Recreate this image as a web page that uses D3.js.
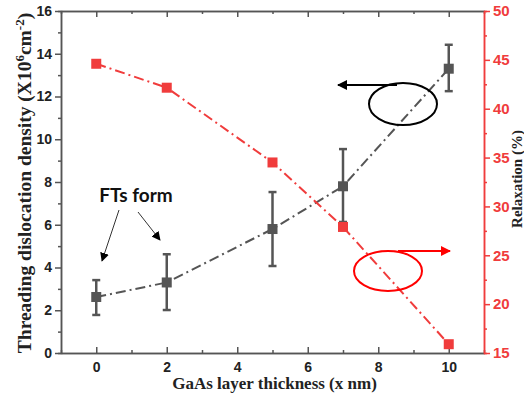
<!DOCTYPE html>
<html>
<head>
<meta charset="utf-8">
<script src="https://cdn.jsdelivr.net/npm/d3@7"></script>
<style>
  body { margin: 0; background: #fff; }
  svg { display: block; }
</style>
</head>
<body>
<div id="vis"></div>
<script>
// data
const thickness = [0, 2, 5, 7, 10];
const tdd = [2.62, 3.3, 5.8, 7.8, 13.3];
const tddLow = [1.78, 2.01, 4.07, 6.13, 12.25];
const tddHigh = [3.41, 4.62, 7.53, 9.54, 14.42];
const relaxation = [44.6, 42.15, 34.5, 27.9, 15.9];

const xTicks = [0, 2, 4, 6, 8, 10];
const leftTicks = [0, 2, 4, 6, 8, 10, 12, 14, 16];
const rightTicks = [15, 20, 25, 30, 35, 40, 45, 50];

const W = 524, H = 400;
const m = {left: 61, right: 40, top: 11, bottom: 47};
const grey = "#555555";
const red = "#f03c3c";

const svg = d3.select("#vis").append("svg").attr("width", W).attr("height", H);

const x = d3.scaleLinear().domain([-1, 11]).range([m.left, W - m.right]);
const yL = d3.scaleLinear().domain([0, 16]).range([H - m.bottom, m.top]);
const yR = d3.scaleLinear().domain([15, 50]).range([H - m.bottom, m.top]);

const tickFont = "Liberation Sans, Arial, sans-serif";
const titleFont = "Liberation Serif, Times New Roman, serif";

// bottom axis (ticks inward)
svg.append("g").attr("transform", `translate(0,${H - m.bottom})`)
  .call(d3.axisBottom(x).tickValues(xTicks).tickSizeInner(-6).tickSizeOuter(0).tickPadding(9));
svg.append("g").attr("transform", `translate(0,${H - m.bottom})`)
  .call(d3.axisBottom(x).tickValues([1, 3, 5, 7, 9]).tickSize(-3).tickFormat(""));
// top axis (no labels, ticks inward)
svg.append("g").attr("transform", `translate(0,${m.top})`)
  .call(d3.axisTop(x).tickValues(xTicks).tickSizeInner(-6).tickSizeOuter(0).tickFormat(""));
svg.append("g").attr("transform", `translate(0,${m.top})`)
  .call(d3.axisTop(x).tickValues([1, 3, 5, 7, 9]).tickSize(-3).tickFormat(""));
// left axis
svg.append("g").attr("transform", `translate(${m.left},0)`)
  .call(d3.axisLeft(yL).tickValues(leftTicks).tickSizeInner(6).tickSizeOuter(0).tickPadding(3));
svg.append("g").attr("transform", `translate(${m.left},0)`)
  .call(d3.axisLeft(yL).tickValues([1, 3, 5, 7, 9, 11, 13, 15]).tickSize(3).tickFormat(""));
// right axis
svg.append("g").attr("class", "raxis").attr("transform", `translate(${W - m.right},0)`)
  .call(d3.axisRight(yR).tickValues(rightTicks).tickSizeInner(6).tickSizeOuter(0).tickPadding(3));
svg.append("g").attr("class", "raxis").attr("transform", `translate(${W - m.right},0)`)
  .call(d3.axisRight(yR).tickValues([17.5, 22.5, 27.5, 32.5, 37.5, 42.5, 47.5]).tickSize(3).tickFormat(""));

svg.selectAll(".domain, .tick line").attr("stroke", grey).attr("stroke-width", 1.5);
svg.selectAll(".raxis .domain, .raxis .tick line").attr("stroke", red);
svg.selectAll(".tick text")
  .attr("font-family", tickFont).attr("font-weight", "bold").attr("font-size", 14).attr("fill", "#222");
svg.selectAll(".raxis .tick text").attr("fill", red).attr("font-size", 15);

// threading dislocation series
const lineL = d3.line().x((d, i) => x(thickness[i])).y(d => yL(d));
svg.append("path").datum(tdd).attr("d", lineL)
  .attr("fill", "none").attr("stroke", grey).attr("stroke-width", 2)
  .attr("stroke-dasharray", "10,4,2,4");

const errs = svg.append("g").attr("stroke", grey).attr("stroke-width", 2.5);
thickness.forEach((t, i) => {
  errs.append("line").attr("x1", x(t)).attr("x2", x(t)).attr("y1", yL(tddLow[i])).attr("y2", yL(tddHigh[i]));
  errs.append("line").attr("x1", x(t) - 4).attr("x2", x(t) + 4).attr("y1", yL(tddLow[i])).attr("y2", yL(tddLow[i]));
  errs.append("line").attr("x1", x(t) - 4).attr("x2", x(t) + 4).attr("y1", yL(tddHigh[i])).attr("y2", yL(tddHigh[i]));
});
svg.append("g").selectAll("rect").data(tdd).join("rect")
  .attr("x", (d, i) => x(thickness[i]) - 5).attr("y", d => yL(d) - 5)
  .attr("width", 10).attr("height", 10).attr("fill", grey);

// relaxation series
const lineR = d3.line().x((d, i) => x(thickness[i])).y(d => yR(d));
svg.append("path").datum(relaxation).attr("d", lineR)
  .attr("fill", "none").attr("stroke", red).attr("stroke-width", 2)
  .attr("stroke-dasharray", "10,4,2,4");
svg.append("g").selectAll("rect").data(relaxation).join("rect")
  .attr("x", (d, i) => x(thickness[i]) - 5).attr("y", d => yR(d) - 5)
  .attr("width", 10).attr("height", 10).attr("fill", red);

// markers for arrows
const defs = svg.append("defs");
[["arrK", "#000"], ["arrR", "#f00"], ["arrT", "#000"]].forEach(([id, c]) => {
  defs.append("marker").attr("id", id).attr("viewBox", "0 0 10 10").attr("refX", 9).attr("refY", 5)
    .attr("markerWidth", id == "arrT" ? 9 : 5).attr("markerHeight", id == "arrT" ? 9 : 5)
    .attr("markerUnits", id == "arrT" ? "userSpaceOnUse" : "strokeWidth").attr("orient", "auto")
    .append("path").attr("d", "M0,0 L10,5 L0,10 z").attr("fill", c);
});

// black loop pointing left
svg.append("ellipse").attr("cx", 403).attr("cy", 104).attr("rx", 34).attr("ry", 21)
  .attr("fill", "none").attr("stroke", "#000").attr("stroke-width", 2);
svg.append("line").attr("x1", 397).attr("y1", 85).attr("x2", 338).attr("y2", 85)
  .attr("stroke", "#000").attr("stroke-width", 2).attr("marker-end", "url(#arrK)");

// red loop pointing right
svg.append("ellipse").attr("cx", 388).attr("cy", 271).attr("rx", 34).attr("ry", 20)
  .attr("fill", "none").attr("stroke", "#f00").attr("stroke-width", 2);
svg.append("line").attr("x1", 398).attr("y1", 251).attr("x2", 450).attr("y2", 251)
  .attr("stroke", "#f00").attr("stroke-width", 2).attr("marker-end", "url(#arrR)");

// FTs form annotation
svg.append("text").attr("x", 136).attr("y", 202).attr("text-anchor", "middle")
  .attr("font-family", "Lato, Open Sans, sans-serif").attr("font-weight", "bold").attr("font-size", 19)
  .attr("fill", "#111").text("FTs form");
svg.append("line").attr("x1", 119).attr("y1", 210).attr("x2", 102).attr("y2", 261)
  .attr("stroke", "#333").attr("stroke-width", 1).attr("marker-end", "url(#arrT)");
svg.append("line").attr("x1", 138).attr("y1", 212).attr("x2", 160).attr("y2", 240)
  .attr("stroke", "#333").attr("stroke-width", 1).attr("marker-end", "url(#arrT)");

// axis titles
svg.append("text").attr("x", (m.left + W - m.right) / 2 + 2).attr("y", 389).attr("text-anchor", "middle")
  .attr("font-family", titleFont).attr("font-weight", "bold").attr("font-size", 17).attr("fill", "#222")
  .text("GaAs layer thickness (x nm)");

const lt = svg.append("text").attr("transform", "translate(31,183) rotate(-90)").attr("text-anchor", "middle")
  .attr("font-family", titleFont).attr("font-weight", "bold").attr("font-size", 19.5).attr("fill", "#222");
lt.append("tspan").text("Threading dislocation density (X10");
lt.append("tspan").attr("dy", -7).attr("font-size", 13).text("6");
lt.append("tspan").attr("dy", 7).text("cm");
lt.append("tspan").attr("dy", -7).attr("font-size", 13).text("-2");
lt.append("tspan").attr("dy", 7).text(")");

svg.append("text").attr("transform", "translate(522,179) rotate(-90)").attr("text-anchor", "middle")
  .attr("font-family", titleFont).attr("font-weight", "bold").attr("font-size", 15).attr("fill", "#222")
  .text("Relaxation (%)");
</script>
</body>
</html>
